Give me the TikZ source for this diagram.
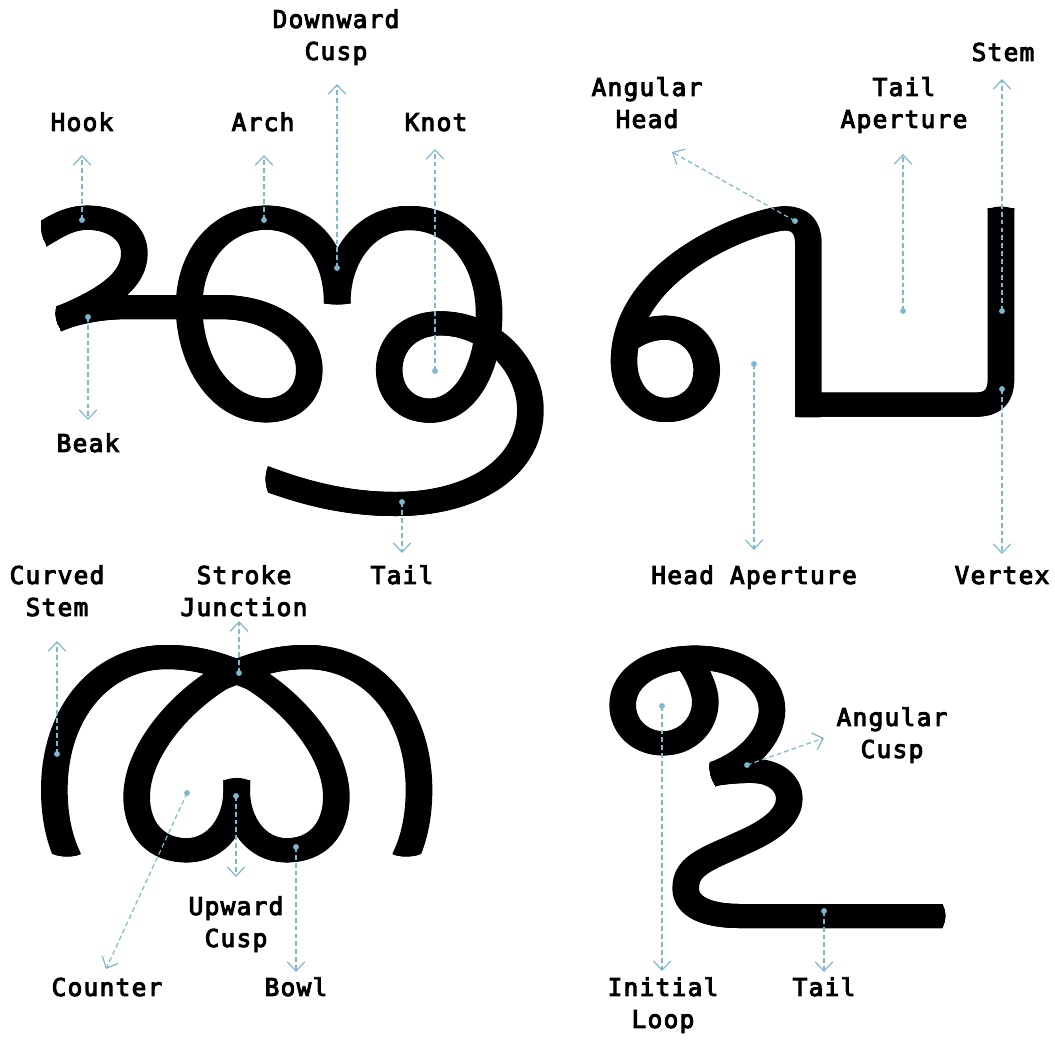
\documentclass[tikz,border=0pt]{standalone}
\usepackage{fontspec}
\newfontfamily\lblfont[LetterSpace=5.4,FakeBold=4]{DejaVu Sans Mono}
\usetikzlibrary{arrows.meta}
\definecolor{lead}{HTML}{7FB7CC}
\newcommand\gstroke[1]{\foreach \s in {-1,0,1}{\draw[glyph,xshift=\s pt] #1;}}
\tikzset{
  x=0.75pt,y=-0.75pt,
  glyph/.style={line width=18pt,line cap=butt,line join=round,draw=black},
  lbl/.style={inner sep=0pt,align=center,font=\lblfont\fontsize{18.3pt}{24pt}\selectfont,text=black},
  pin/.style={circle,fill=lead,draw=none,inner sep=0pt,minimum size=4.4pt},
  leader/.style={draw=lead,line width=0.9pt,dash pattern=on 3.6pt off 2.3pt,-{Straight Barb[length=7pt,width=13.2pt,line width=0.9pt]}},
}
\begin{document}
\begin{tikzpicture}
\useasboundingbox (0,0) rectangle (1055,1039);
\fill[white] (0,0) rectangle (1055,1039);
% --- glyph 1
\begin{scope}[shift={(20,190)},x=0.2583pt,y=-0.25pt]
\clip (55,-10) -- (62,100) .. controls (60,125) and (65,145) .. (75,160) -- (85,260) -- (105,352)
  .. controls (101,375) and (105,400) .. (118,417) -- (130,560) -- (720,800) -- (720,830)
  .. controls (710,855) and (712,885) .. (720,905) -- (730,1020) -- (1650,1020) -- (1650,-10) -- cycle;
\gstroke{(50,142) -- (100,112) .. controls (130,95) and (160,83) .. (195,83)
  .. controls (280,83) and (332,130) .. (332,190)
  .. controls (332,265) and (265,325) .. (105,390) -- (60,408)}
\gstroke{(60,405) -- (105,388) .. controls (170,365) and (230,351) .. (320,351)
  -- (580,351) .. controls (740,351) and (840,440) .. (840,540)
  .. controls (840,610) and (790,661) .. (715,661)
  .. controls (580,661) and (491,510) .. (491,350)
  .. controls (491,190) and (590,83) .. (715,83)
  .. controls (840,83) and (921,190) .. (921,340)}
\gstroke{(921,340) .. controls (921,190) and (1010,84) .. (1130,84)
  .. controls (1270,84) and (1362,210) .. (1362,370)
  .. controls (1362,540) and (1290,662) .. (1190,662)
  .. controls (1120,662) and (1072,610) .. (1072,540)
  .. controls (1072,460) and (1130,400) .. (1220,400)
  .. controls (1370,400) and (1482,530) .. (1482,660)
  .. controls (1482,830) and (1320,942) .. (1090,942)
  .. controls (950,942) and (830,910) .. (720,868) -- (670,849)}
\fill (882,339) .. controls (905,346) and (937,346) .. (960,339) -- cycle;
\end{scope}
% --- glyph 2
\begin{scope}[shift={(600,190)},x=0.25pt,y=-0.25pt]
\gstroke{(1203,54) -- (1203,565) .. controls (1203,620) and (1180,644) .. (1125,644) -- (600,644)}
\gstroke{(625,681) -- (625,160) .. controls (625,110) and (600,85) .. (555,85)
  .. controls (480,85) and (72,220) .. (72,515)
  .. controls (72,600) and (125,660) .. (198,660)
  .. controls (270,660) and (320,610) .. (320,540)
  .. controls (320,470) and (270,413) .. (195,413)
  .. controls (155,413) and (120,425) .. (90,445)}
\fill (1160,58) .. controls (1190,47) and (1216,47) .. (1246,58) -- cycle;
\end{scope}
% --- glyph 3
\begin{scope}[shift={(30,630)},x=0.25pt,y=-0.25pt]
\clip (0,-10) -- (1300,-10) -- (1300,672) -- (1172,672) .. controls (1145,682) and (1110,682) .. (1084,671)
  -- (1000,671) -- (1000,760) -- (240,760) -- (240,671) -- (156,671)
  .. controls (130,682) and (95,682) .. (68,672) -- (0,672) -- cycle;
\gstroke{(130,725) -- (112,677) .. controls (85,620) and (73,550) .. (73,480)
  .. controls (73,240) and (220,81) .. (410,81)
  .. controls (510,81) and (580,108) .. (670,145)
  .. controls (800,225) and (919,370) .. (919,500)
  .. controls (919,600) and (860,661) .. (770,661)
  .. controls (680,661) and (620,580) .. (620,480) -- (620,450)}
\gstroke{(1110,725) -- (1128,677) .. controls (1155,620) and (1167,550) .. (1167,480)
  .. controls (1167,240) and (1020,81) .. (830,81)
  .. controls (730,81) and (660,108) .. (570,145)
  .. controls (440,225) and (320,370) .. (320,500)
  .. controls (320,600) and (380,661) .. (470,661)
  .. controls (560,661) and (620,580) .. (620,480) -- (620,450)}
\fill (580,452) .. controls (605,441) and (635,441) .. (660,452) -- cycle;
\end{scope}
% --- glyph 4
\begin{scope}[shift={(600,630)},x=0.25pt,y=-0.25pt]
\clip (0,0) -- (1100,0) -- (1100,800) -- (1027,800) -- (1027,823) .. controls (1039,845) and (1039,870) .. (1027,893)
  -- (1027,950) -- (150,950) -- (150,500) -- (345,500) -- (345,465) .. controls (332,445) and (326,420) .. (330,395)
  -- (0,395) -- cycle;
\gstroke{(265,90) .. controls (300,140) and (316,185) .. (316,215)
  .. controls (316,285) and (260,340) .. (190,340)
  .. controls (120,340) and (68,290) .. (68,225)
  .. controls (68,140) and (160,83) .. (285,83)
  .. controls (420,83) and (516,150) .. (516,240)
  .. controls (516,320) and (440,400) .. (335,434) -- (290,447)}
\gstroke{(290,440) -- (345,431) .. controls (390,424) and (430,422) .. (465,423)
  .. controls (525,425) and (568,460) .. (568,505)
  .. controls (568,550) and (530,590) .. (450,628)
  .. controls (330,685) and (257,700) .. (257,775)
  .. controls (257,830) and (320,858) .. (420,858) -- (1060,858)}
\end{scope}
% --- pins and leaders
\foreach \n/\dx/\dy/\tx/\ty in {
 hook/82/220/82/155, arch/264/220/264/155, dcusp/337/268/337/84, knot/435/371/435/149,
 beak/88/317/88/420, taila/402/502/402/553, ahead/795/221/672/152, taper/903/311/903/154,
 stem/1002/311/1002/79, haper/754/364/754/550, vertex/1002/389/1002/554, cstem/57/754/57/641,
 sjunc/239/673/239/621, counter/187/793/106/969, ucusp/236/796/236/877, bowl/296/847/296/972,
 iloop/662/706/662/971, tailb/824/911/824/972, acusp/747/765/824/738}{
  \node[pin] (\n-pin) at (\dx,\dy) {};
  \coordinate (\n-tip) at (\tx,\ty);
  \draw[leader] (\n-pin.center) -- (\n-tip);
}
% --- labels
\node[lbl] (l1) at (82,124.5) {\strut Hook};
\node[lbl] (l2) at (263,124.5) {\strut Arch};
\node[lbl] (l3) at (336,37.5) {\strut Downward\\\strut Cusp};
\node[lbl] (l4) at (436,124.5) {\strut Knot};
\node[lbl] (l5) at (88,445.5) {\strut Beak};
\node[lbl] (l6) at (402,577.5) {\strut Tail};
\node[lbl] (l7) at (647,105.5) {\strut Angular\\\strut Head};
\node[lbl] (l8) at (904,105.5) {\strut Tail\\\strut Aperture};
\node[lbl] (l9) at (1003,54.5) {\strut Stem};
\node[lbl] (l10) at (754,577.5) {\strut Head Aperture};
\node[lbl] (l11) at (1002,577.5) {\strut Vertex};
\node[lbl] (l12) at (57,593.5) {\strut Curved\\\strut Stem};
\node[lbl] (l13) at (244,593.5) {\strut Stroke\\\strut Junction};
\node[lbl] (l14) at (236,924.5) {\strut Upward\\\strut Cusp};
\node[lbl] (l15) at (107,989.5) {\strut Counter};
\node[lbl] (l16) at (296,989.5) {\strut Bowl};
\node[lbl] (l17) at (663,1005.5) {\strut Initial\\\strut Loop};
\node[lbl] (l18) at (824,989.5) {\strut Tail};
\node[lbl] (l19) at (892,735.5) {\strut Angular\\\strut Cusp};
\end{tikzpicture}
\end{document}
